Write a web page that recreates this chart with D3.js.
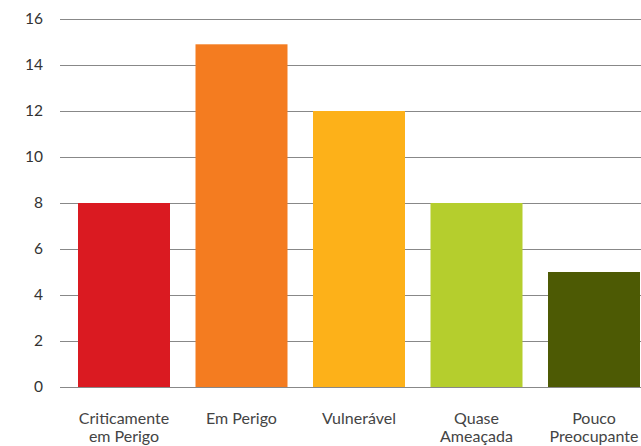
<!DOCTYPE html>
<html>
<head>
<meta charset="utf-8">
<script src="https://cdn.jsdelivr.net/npm/d3@7"></script>
<style>
  body { margin: 0; background: #fff; }
  svg { display: block; font-family: Lato, "Open Sans", sans-serif; }
</style>
</head>
<body>
<script>
const width = 641;
const height = 446;

const categories = [["Criticamente", "em Perigo"], ["Em Perigo"], ["Vulnerável"], ["Quase", "Ameaçada"], ["Pouco", "Preocupante"]];
const values = [8, 14.9, 12, 8, 5];
const colors = ["#da1a21", "#f47c20", "#fdb119", "#b5ce2d", "#4d5a04"];
const yTicks = [0, 2, 4, 6, 8, 10, 12, 14, 16];

const keys = categories.map(c => c.join(" "));

const x = d3.scaleBand()
    .domain(keys)
    .range([65.25, 652.75])
    .paddingInner(0.217)
    .paddingOuter(0.1085);

const y = d3.scaleLinear()
    .domain([0, 16])
    .range([387, 19]);

const svg = d3.select('body').append('svg')
    .attr('width', width)
    .attr('height', height);

// gridlines
svg.append('g')
    .selectAll('line')
    .data(yTicks)
    .enter().append('line')
    .attr('x1', 60)
    .attr('x2', width)
    .attr('y1', d => Math.round(y(d)) + 0.5)
    .attr('y2', d => Math.round(y(d)) + 0.5)
    .attr('stroke', '#888')
    .attr('stroke-width', 1);

// y tick labels
svg.append('g')
    .selectAll('text')
    .data(yTicks)
    .enter().append('text')
    .attr('x', 43)
    .attr('y', d => y(d))
    .attr('dy', '0.35em')
    .attr('text-anchor', 'end')
    .attr('font-size', 15.5)
    .attr('fill', '#333')
    .text(d => d);

// bars
svg.append('g')
    .selectAll('rect')
    .data(values)
    .enter().append('rect')
    .attr('x', (d, i) => x(keys[i]))
    .attr('y', d => y(d))
    .attr('width', x.bandwidth())
    .attr('height', d => y(0) - y(d))
    .attr('fill', (d, i) => colors[i]);

// x labels
const lab = svg.append('g')
    .selectAll('text')
    .data(categories)
    .enter().append('text')
    .attr('text-anchor', 'middle')
    .attr('font-size', 16)
    .attr('fill', '#444')
    .attr('transform', (d, i) => `translate(${x(keys[i]) + x.bandwidth() / 2},424)`);

lab.selectAll('tspan')
    .data(d => d)
    .enter().append('tspan')
    .attr('x', 0)
    .attr('y', (d, i) => i * 18)
    .text(d => d);
</script>
</body>
</html>
